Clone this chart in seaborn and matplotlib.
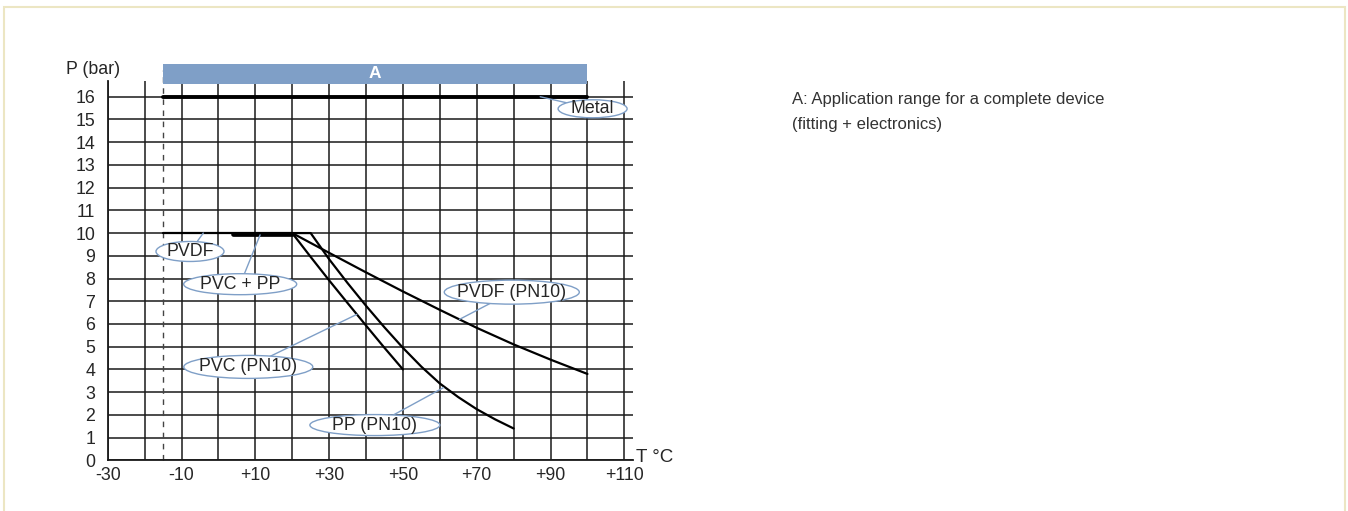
import matplotlib
matplotlib.use('Agg')
import matplotlib.pyplot as plt
import seaborn as sns
import pandas as pd
from matplotlib.patches import Ellipse, Rectangle

# pressure / temperature curves (T in degC, P in bar)
metal_t = [-15, 100]
metal_p = [16, 16]
pvdf_flat_t = [-15, 20]
pvdf_flat_p = [10, 10]
pvc_pp_flat_t = [4, 20]
pvc_pp_flat_p = [9.97, 9.97]
pvdf_t = [20, 30, 40, 50, 60, 70, 80, 90, 100]
pvdf_p = [10, 9.13, 8.27, 7.43, 6.62, 5.83, 5.1, 4.43, 3.8]
pvc_t = [20, 25, 30, 35, 40, 45, 50]
pvc_p = [10, 8.95, 7.92, 6.92, 5.93, 4.95, 4.0]
pp_t = [20, 25, 30, 35, 40, 45, 50, 55, 60, 65, 70, 75, 80]
pp_p = [10, 10, 8.85, 7.8, 6.8, 5.85, 4.95, 4.12, 3.38, 2.78, 2.25, 1.8, 1.4]

# application range A
range_a = [-15, 100]
range_a_p = [16.58, 17.46]

# curve labels
labels = ['Metal', 'PVDF', 'PVC + PP', 'PVC (PN10)', 'PVDF (PN10)', 'PP (PN10)']
label_t = [101.4, -7.7, 5.9, 8.1, 79.5, 42.4]
label_p = [15.47, 9.19, 7.75, 4.11, 7.4, 1.55]
anchor_t = [87.2, -4.1, 11.3, 37.5, 65.3, 61.0]
anchor_p = [16.0, 10.0, 9.92, 6.42, 6.2, 3.2]
ell_w_px = [69, 68, 113, 129, 135, 130]
ell_h_px = [18, 20, 21, 23, 24, 21]

x_ticks = [-30, -10, 10, 30, 50, 70, 90, 110]
x_minor = [-20, 0, 20, 40, 60, 80, 100]
y_ticks = list(range(0, 17))

sns.set_style('white')
plt.rcParams['font.family'] = ['Liberation Sans', 'DejaVu Sans']

W, H = 1348, 511
fig = plt.figure(figsize=(W / 100, H / 100), dpi=100)
ax = fig.add_axes([107.7 / W, 50.7 / H, 525.5 / W, 378.8 / H])
ax.set_xlim(-30, 112.4)
ax.set_ylim(0, 16.67)
px_x = 3.69    # pixels per degC
px_y = 22.725  # pixels per bar

blue = '#7f9fc7'
grid_c = '#1a1a1a'

ax.set_xticks(x_ticks)
ax.set_xticks(x_minor, minor=True)
ax.set_xticklabels([('+' if v > 0 else '') + str(v) for v in x_ticks], fontsize=12.8)
ax.set_yticks(y_ticks)
ax.set_yticklabels([str(v) for v in y_ticks], fontsize=12.8)
ax.tick_params(axis='x', which='both', length=3, width=1.1, color=grid_c, pad=2)
ax.tick_params(axis='y', length=0, pad=9)
ax.grid(True, which='both', color=grid_c, lw=1.1)
ax.set_axisbelow(True)
for s in ['top', 'right']:
    ax.spines[s].set_visible(False)
for s in ['left', 'bottom']:
    ax.spines[s].set_color(grid_c)
    ax.spines[s].set_linewidth(1.3)

# dashed start of application range
ax.vlines(range_a[0], 0, 17.19, colors='#444444', linestyles=(0, (4, 4)), lw=1, clip_on=False, zorder=2)

# blue bar A
ax.fill_between(range_a, range_a_p[0], range_a_p[1], color=blue, lw=0, clip_on=False, zorder=3)
ax.text(sum(range_a) / 2, sum(range_a_p) / 2, 'A', color='white', fontsize=12.5,
        fontweight='bold', ha='center', va='center', clip_on=False, zorder=4)

# curves
sns.lineplot(x=metal_t, y=metal_p, color='black', lw=2.8, ax=ax, zorder=3)
sns.lineplot(x=pvdf_flat_t, y=pvdf_flat_p, color='black', lw=1.6, ax=ax, zorder=3)
sns.lineplot(x=pvc_pp_flat_t, y=pvc_pp_flat_p, color='black', lw=3.4, ax=ax, zorder=3)
curves = pd.concat([
    pd.DataFrame({'T': pvdf_t, 'P': pvdf_p, 'name': 'PVDF (PN10)'}),
    pd.DataFrame({'T': pvc_t, 'P': pvc_p, 'name': 'PVC (PN10)'}),
    pd.DataFrame({'T': pp_t, 'P': pp_p, 'name': 'PP (PN10)'}),
])
sns.lineplot(data=curves, x='T', y='P', units='name', estimator=None, color='black',
             lw=1.6, ax=ax, zorder=3, sort=False, legend=False)

# labels with ellipses and leader lines
for i, lab in enumerate(labels):
    ax.plot([anchor_t[i], label_t[i]], [anchor_p[i], label_p[i]], color=blue, lw=1, zorder=5)
    e = Ellipse((label_t[i], label_p[i]), ell_w_px[i] / px_x, ell_h_px[i] / px_y,
                fc='white', ec=blue, lw=1, zorder=6, clip_on=False)
    ax.add_patch(e)
    ax.text(label_t[i], label_p[i], lab, fontsize=12.8, ha='center', va='center',
            zorder=7, clip_on=False)

ax.set_xlabel('')
ax.set_ylabel('')

fig.text(66 / W, 1 - 70 / H, 'P (bar)', fontsize=12.8, ha='left', va='center')
fig.text(636 / W, 1 - 458 / H, 'T °C', fontsize=13.5, ha='left', va='center')

fig.text(792 / W, 1 - 99 / H, 'A: Application range for a complete device', fontsize=12,
         color='#333333', ha='left', va='center')
fig.text(792 / W, 1 - 125 / H, '(fitting + electronics)', fontsize=12,
         color='#333333', ha='left', va='center')

# light page frame
fig.add_artist(Rectangle((4 / W, -0.1), (1345 - 4) / W, 1.1 - 7 / H, transform=fig.transFigure,
                         fill=False, ec='#ece6c3', lw=1.5))

fig.savefig('out.png', dpi=100)
